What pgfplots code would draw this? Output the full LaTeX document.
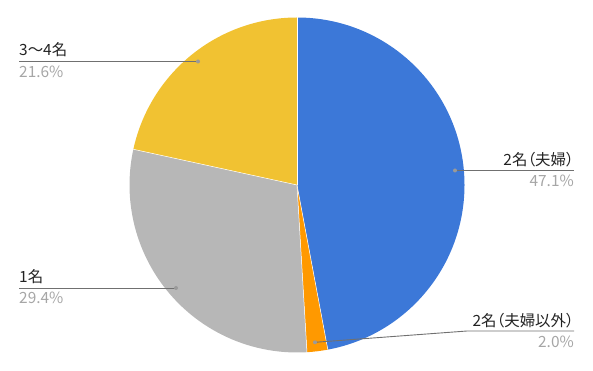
\documentclass[border=0pt]{standalone}
\usepackage{pgfplots}
\usepackage{pgfplotstable}
\pgfplotsset{compat=1.18}
\usepackage{fontspec}
\setmainfont[RawFeature=+palt]{Noto Sans CJK JP}
\definecolor{cBlue}{HTML}{3C78D8}
\definecolor{cOrange}{HTML}{FF9900}
\definecolor{cGray}{HTML}{B7B7B7}
\definecolor{cYellow}{HTML}{F1C232}
\definecolor{cLine}{HTML}{707070}
\definecolor{cDot}{HTML}{9A9A9A}
\definecolor{cPct}{HTML}{A6A6A6}
\definecolor{cTxt}{HTML}{222222}

\pgfplotstableread{
name value
couple 47.1
pairother 2.0
single 29.4
threefour 21.6
}\piedata

\begin{document}
\begin{tikzpicture}
\pgfplotstablegetelem{0}{value}\of\piedata \let\va\pgfplotsretval
\pgfplotstablegetelem{1}{value}\of\piedata \let\vb\pgfplotsretval
\pgfplotstablegetelem{2}{value}\of\piedata \let\vc\pgfplotsretval
\pgfplotstablegetelem{3}{value}\of\piedata \let\vd\pgfplotsretval
\pgfmathsetmacro\tot{\va+\vb+\vc+\vd}
\pgfmathsetmacro\angA{90}
\pgfmathsetmacro\angB{\angA-\va/\tot*360}
\pgfmathsetmacro\angC{\angB-\vb/\tot*360}
\pgfmathsetmacro\angD{\angC-\vc/\tot*360}
\pgfmathsetmacro\angE{-270}
\def\rad{167.5bp}
\begin{axis}[
  scale only axis, width=593bp, height=371bp,
  xmin=0, xmax=593, ymin=0, ymax=371,
  hide axis, clip=false,
]
\path (axis cs:0,0) rectangle (axis cs:593,371);
\fill[cBlue]   (axis cs:297,186) -- ++(\angA:\rad) arc[start angle=\angA, end angle=\angB, radius=\rad] -- cycle;
\fill[cOrange] (axis cs:297,186) -- ++(\angB:\rad) arc[start angle=\angB, end angle=\angC, radius=\rad] -- cycle;
\fill[cGray]   (axis cs:297,186) -- ++(\angC:\rad) arc[start angle=\angC, end angle=\angD, radius=\rad] -- cycle;
\fill[cYellow] (axis cs:297,186) -- ++(\angD:\rad) arc[start angle=\angD, end angle=\angE, radius=\rad] -- cycle;
\draw[white, line width=0.5bp] (axis cs:297,186) -- ++(\angA:\rad);
\draw[white, line width=0.5bp] (axis cs:297,186) -- ++(\angB:\rad);
\draw[white, line width=0.5bp] (axis cs:297,186) -- ++(\angC:\rad);
\draw[white, line width=0.5bp] (axis cs:297,186) -- ++(\angD:\rad);
% leader lines
\draw[cLine, line width=0.9bp] (axis cs:19,309.5) -- (axis cs:198,309.5);
\fill[cDot] (axis cs:198,309.5) circle[radius=2bp];
\draw[cLine, line width=0.9bp] (axis cs:455,200.5) -- (axis cs:574,200.5);
\fill[cDot] (axis cs:455,200.5) circle[radius=2bp];
\draw[cLine, line width=0.9bp] (axis cs:315,28.7) -- (axis cs:467,40) -- (axis cs:574,40);
\fill[cDot] (axis cs:315,28.7) circle[radius=2bp];
\draw[cLine, line width=0.9bp] (axis cs:19,83) -- (axis cs:176,83);
\fill[cDot] (axis cs:176,83) circle[radius=2bp];
% labels
\tikzset{lab/.style={inner sep=0pt, text=cTxt, font=\fontsize{15.5}{17}\selectfont},
         pct/.style={inner sep=0pt, text=cPct, font=\fontsize{15.5}{17}\selectfont}}
\node[anchor=base west, lab] at (axis cs:19,315) {3～4名};
\node[anchor=base west, pct] at (axis cs:19,293.5) {21.6\%};
\node[anchor=base east, lab] at (axis cs:574,205) {2名（夫婦）};
\node[anchor=base east, pct] at (axis cs:574,184.5) {47.1\%};
\node[anchor=base east, lab] at (axis cs:574,44.5) {2名（夫婦以外）};
\node[anchor=base east, pct] at (axis cs:574,23.5) {2.0\%};
\node[anchor=base west, lab] at (axis cs:19,88.7) {1名};
\node[anchor=base west, pct] at (axis cs:19,67) {29.4\%};
\end{axis}
\end{tikzpicture}
\end{document}
